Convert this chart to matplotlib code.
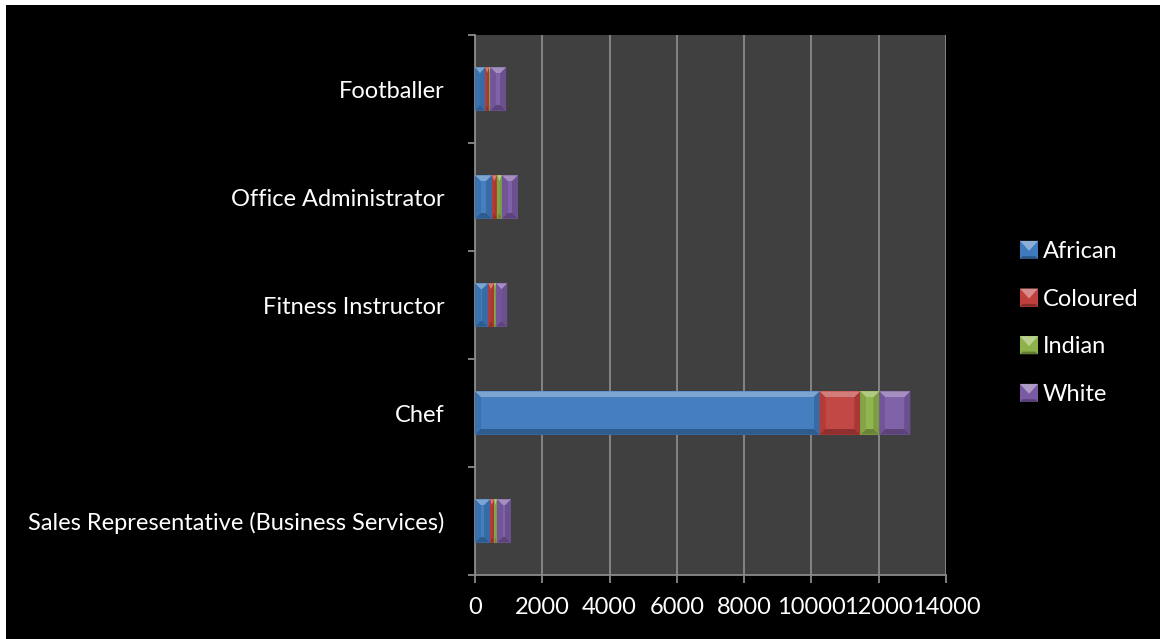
import matplotlib
matplotlib.use("Agg")
import matplotlib.pyplot as plt
from matplotlib.patches import Rectangle, Polygon
from matplotlib.legend_handler import HandlerBase
from matplotlib.ticker import FixedLocator, NullFormatter
from matplotlib.colors import to_rgb
import numpy as np

# ---- data -------------------------------------------------------------
categories = [
    "Sales Representative (Business Services)",
    "Chef",
    "Fitness Instructor",
    "Office Administrator",
    "Footballer",
]
african = [445, 10240, 385, 500, 300]
coloured = [120, 1215, 180, 150, 120]
indian = [90, 565, 60, 150, 35]
white = [415, 920, 330, 475, 470]

series_names = ["African", "Coloured", "Indian", "White"]
series_values = [african, coloured, indian, white]
series_colors = ["#3e7abd", "#bf403d", "#8db24a", "#7a5ba3"]
x_ticks = [0, 2000, 4000, 6000, 8000, 10000, 12000, 14000]

# ---- style ------------------------------------------------------------
FONT = ["Lato", "DejaVu Sans"]
plt.rcParams["font.family"] = FONT
FS = 17
W, H = 1160, 639


def mix(c, other, t):
    c = np.array(to_rgb(c))
    o = np.array(to_rgb(other))
    return tuple(c * (1 - t) + o * t)


def bevel_polys(x0, y0, x1, y1, b):
    """Picture-frame bevel in display pixels: top, bottom, left, right, face."""
    bx = min(b, (x1 - x0) / 2)
    by = min(b, (y1 - y0) / 2)
    ix0, ix1 = x0 + bx, x1 - bx
    iy0, iy1 = y0 + by, y1 - by
    top = [(x0, y1), (x1, y1), (ix1, iy1), (ix0, iy1)]
    bottom = [(x0, y0), (x1, y0), (ix1, iy0), (ix0, iy0)]
    left = [(x0, y0), (ix0, iy0), (ix0, iy1), (x0, y1)]
    right = [(x1, y0), (ix1, iy0), (ix1, iy1), (x1, y1)]
    face = [(ix0, iy0), (ix1, iy0), (ix1, iy1), (ix0, iy1)]
    return top, bottom, left, right, face


SHADES = {
    "top": ("white", 0.32),
    "bottom": ("black", 0.25),
    "left": ("black", 0.07),
    "right": ("black", 0.12),
    "face": ("white", 0.04),
}


class BevelHandler(HandlerBase):
    def create_artists(self, legend, orig_handle, xdescent, ydescent,
                       width, height, fontsize, trans):
        color = orig_handle.get_facecolor()[:3]
        side = min(width, height)
        x0, y0 = -xdescent, -ydescent + (height - side) / 2
        x1, y1 = x0 + side, y0 + side
        arts = [Polygon([(x0, y0), (x1, y0), (x1, y1), (x0, y1)], closed=True,
                        facecolor=color, edgecolor="none", transform=trans)]
        # lighter top face narrowing to a point, darker lower rim
        arts.append(Polygon([(x0, y1), (x1, y1), (x0 + side / 2, y0 + side * 0.45)],
                            closed=True, facecolor=mix(color, "white", 0.4),
                            edgecolor="none", transform=trans))
        arts.append(Polygon([(x0, y0), (x1, y0), (x1 - side * 0.15, y0 + side * 0.15),
                             (x0 + side * 0.15, y0 + side * 0.15)], closed=True,
                            facecolor=mix(color, "black", 0.3), edgecolor="none",
                            transform=trans))
        return arts


fig = plt.figure(figsize=(W / 100, H / 100), dpi=100, facecolor="white")
# black chart area inside a thin white margin
fig.patches.append(Rectangle((6 / W, 0), 1, 1 - 5 / H, transform=fig.transFigure,
                             facecolor="black", edgecolor="none", zorder=-10))

ax = fig.add_axes([475 / W, 1 - 575 / H, (946 - 475) / W, (575 - 35) / H])
ax.set_facecolor("#404040")
ax.set_xlim(0, 14000)
ax.set_ylim(-0.5, len(categories) - 0.5)

grid_c = "#8a8a8a"
ax.set_xticks(x_ticks)
ax.set_xticklabels([str(t) for t in x_ticks])
ax.grid(axis="x", color=grid_c, lw=1.3, zorder=0)
ax.set_axisbelow(True)

for s in ["top", "right"]:
    ax.spines[s].set_visible(False)
for s in ["left", "bottom"]:
    ax.spines[s].set_color(grid_c)
    ax.spines[s].set_linewidth(1.3)

ax.tick_params(axis="x", colors=grid_c, length=6, width=1.3, labelcolor="white",
               labelsize=FS, pad=10)
# category boundary ticks and centred labels
ypos = np.arange(len(categories))
ax.yaxis.set_major_locator(FixedLocator(np.arange(-0.5, len(categories), 1.0)))
ax.yaxis.set_major_formatter(NullFormatter())
ax.yaxis.set_minor_locator(FixedLocator(ypos))
ax.set_yticklabels(categories, minor=True)
ax.tick_params(axis="y", which="major", colors=grid_c, length=5, width=1.3)
ax.tick_params(axis="y", which="minor", length=0, labelcolor="white",
               labelsize=FS, pad=22)

# stacked bars
left = np.zeros(len(categories))
bar_groups = []
for name, vals, col in zip(series_names, series_values, series_colors):
    bars = ax.barh(ypos, vals, left=left, height=0.4, color=col, label=name,
                   edgecolor="none", zorder=2)
    bar_groups.append((bars, col))
    left = left + np.array(vals)

# bevel shading over each segment, computed in pixels
inv = ax.transData.inverted()
for bars, col in bar_groups:
    for p in bars.patches:
        bb = p.get_window_extent()
        polys = bevel_polys(bb.x0, bb.y0, bb.x1, bb.y1, 6.0)
        for key, pts in zip(["top", "bottom", "left", "right", "face"], polys):
            tgt, t = SHADES[key]
            ax.add_patch(Polygon(inv.transform(pts), closed=True,
                                 facecolor=mix(col, tgt, t), edgecolor="none",
                                 zorder=3))

handles = [Rectangle((0, 0), 1, 1, facecolor=c) for c in series_colors]
leg = fig.legend(handles, series_names, loc="center left",
                 bbox_to_anchor=(1020 / W, 1 - 323 / H), frameon=False,
                 fontsize=FS, labelcolor="white", handlelength=0.8,
                 handleheight=0.8, handletextpad=0.15, labelspacing=1.12,
                 borderpad=0, borderaxespad=0,
                 handler_map={Rectangle: BevelHandler()})

fig.savefig("out.png", dpi=100, facecolor=fig.get_facecolor())
